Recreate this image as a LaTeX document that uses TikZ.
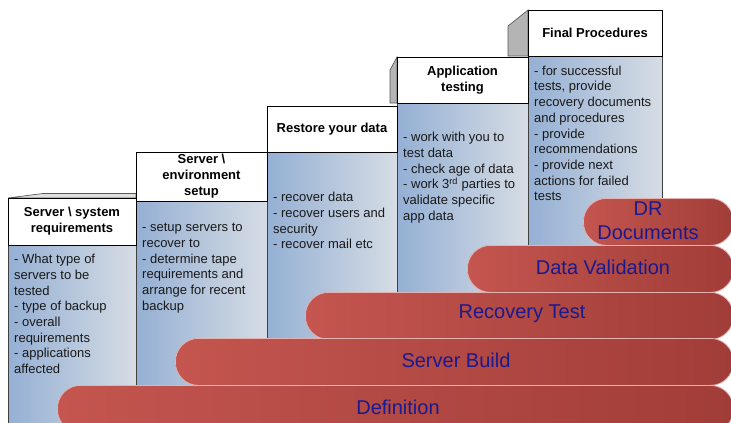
\documentclass[tikz,border=0pt]{standalone}
\usepackage{fontspec}
\setmainfont{Liberation Sans}
\definecolor{bodyL}{HTML}{95B0D4}
\definecolor{bodyR}{HTML}{D6DCE4}
\definecolor{barL}{HTML}{C4554F}
\definecolor{barR}{HTML}{A13D38}
\definecolor{barText}{HTML}{1A1A8E}
\definecolor{sidegray}{HTML}{B4B4B4}
\begin{document}
\begin{tikzpicture}[x=1pt,y=-1pt,
  hdr/.style={draw=black, line width=0.8pt, fill=white, font=\bfseries\fontsize{13}{16}\selectfont, align=center, inner sep=0pt},
  bodybox/.style={draw=black!75, line width=0.8pt, left color=bodyL, right color=bodyR, inner sep=0pt, anchor=north west},
  bodytext/.style={anchor=north west, align=left, font=\fontsize{13}{15.7}\selectfont, text=black!90, inner sep=0pt},
  bar/.style={rounded corners=23pt, left color=barL, right color=barR, draw=white!55!barL, line width=0.8pt, inner sep=0pt, anchor=north west, minimum height=47pt},
  bartext/.style={text=barText, font=\fontsize{20}{24}\selectfont, align=center, inner sep=0pt},
  sideface/.style={fill=sidegray, draw=black!65, line width=0.7pt}]
\useasboundingbox (0,0) rectangle (731,423);
\clip (0,0) rectangle (731,423);
% side / top faces
\draw[sideface, fill=black!12] (8,198) -- (43,193.5) -- (136,193.5) -- (136,198) -- cycle;
\draw[sideface] (390,103) -- (390,70) -- (397,57) -- (397,103) -- cycle;
\draw[sideface] (508,56) -- (508,26) -- (528,10) -- (528,56) -- cycle;
% bodies
\node[bodybox, minimum width=128pt, minimum height=190pt] (b1) at (8,245) {};
\node[bodybox, minimum width=131pt, minimum height=184pt] (b2) at (136,201) {};
\node[bodybox, minimum width=130pt, minimum height=186pt] (b3) at (267,152) {};
\node[bodybox, minimum width=131pt, minimum height=189pt] (b4) at (397,103) {};
\node[bodybox, minimum width=134pt, minimum height=189pt] (b5) at (528,56) {};
% headers
\node[hdr, minimum width=128pt, minimum height=47pt] (h1) at (72,221.5) {Server \textbackslash{} system\\requirements};
\node[hdr, minimum width=131pt, minimum height=49pt] (h2) at (201.5,176.5) {Server \textbackslash\\environment\\setup};
\node[hdr, minimum width=130pt, minimum height=46pt] (h3) at (332,129) {Restore your data};
\node[hdr, minimum width=131pt, minimum height=46pt] (h4) at (462.5,80) {Application\\testing};
\node[hdr, minimum width=134pt, minimum height=46pt] (h5) at (595,33) {Final Procedures};
% body texts
\node[bodytext] (t1) at (14,253.5) {\rule{0pt}{10pt}- What type of\\servers to be\\tested\\- type of backup\\- overall\\requirements\\- applications\\affected};
\node[bodytext] (t2) at (142,221.5) {\rule{0pt}{10pt}- setup servers to\\recover to\\- determine tape\\requirements and\\arrange for recent\\backup};
\node[bodytext] (t3) at (273,191.5) {\rule{0pt}{10pt}- recover data\\- recover users and\\security\\- recover mail etc};
\node[bodytext] (t4) at (403,131.5) {\rule{0pt}{10pt}- work with you to\\test data\\- check age of data\\- work 3\textsuperscript{rd} parties to\\validate specific\\app data};
\node[bodytext] (t5) at (534,65) {\rule{0pt}{10pt}- for successful\\tests, provide\\recovery documents\\and procedures\\- provide\\recommendations\\- provide next\\actions for failed\\tests};
% bars
\node[bar, minimum width=150pt] (bdr) at (583,198) {};
\node[bar, minimum width=266pt] (bdv) at (467,245) {};
\node[bar, minimum width=428pt] (brt) at (305,292) {};
\node[bar, minimum width=558pt] (bsb) at (175,338) {};
\node[bar, minimum width=676pt] (bdef) at (57,385) {};
% bar labels
\node[bartext] (ldr) at (648,221) {DR\\Documents};
\node[bartext] (ldv) at (603,267) {Data Validation};
\node[bartext] (lrt) at (522,314) {Recovery Test};
\node[bartext] (lsb) at (456,360) {Server Build};
\node[bartext] (ldef) at (398,407) {Definition};
\end{tikzpicture}
\end{document}
